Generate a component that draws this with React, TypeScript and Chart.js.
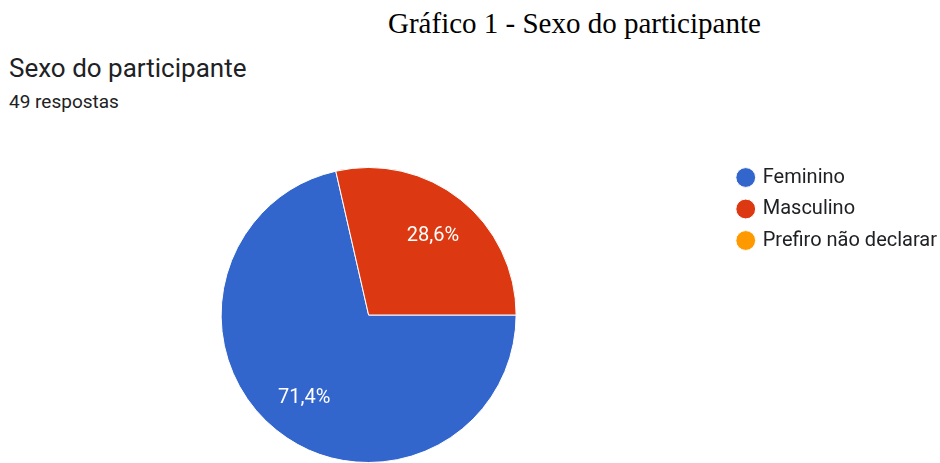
import React, { useEffect, useRef } from "react";
import { Chart, registerables } from "chart.js";

Chart.register(...registerables);

const categories: string[] = ["Feminino", "Masculino", "Prefiro não declarar"];
const values: number[] = [35, 14, 0];
const colors: string[] = ["#3366cc", "#dc3912", "#ff9900"];
const pageTitle = "Gráfico 1 - Sexo do participante";
const question = "Sexo do participante";
const responses = "49 respostas";

const labelPlugin = {
  id: "pctLabels",
  afterDatasetsDraw(chart: any) {
    const ctx = chart.ctx;
    const meta = chart.getDatasetMeta(0);
    const data = chart.data.datasets[0].data as number[];
    const total = data.reduce((a, b) => a + b, 0);
    ctx.save();
    ctx.fillStyle = "#ffffff";
    ctx.font = "20px Roboto";
    ctx.textAlign = "center";
    ctx.textBaseline = "middle";
    meta.data.forEach((arc: any, i: number) => {
      const v = data[i];
      if (!v) return;
      const { x, y, startAngle, endAngle, outerRadius } = arc.getProps(
        ["x", "y", "startAngle", "endAngle", "outerRadius"],
        true
      );
      const mid = (startAngle + endAngle) / 2;
      const r = outerRadius * 0.7;
      const txt = ((v / total) * 100).toFixed(1).replace(".", ",") + "%";
      ctx.fillText(txt, x + Math.cos(mid) * r, y + Math.sin(mid) * r + 2);
    });
    ctx.restore();
  },
};

export default function App() {
  const ref = useRef<HTMLCanvasElement>(null);
  useEffect(() => {
    const chart = new Chart(ref.current!, {
      type: "pie",
      data: {
        labels: categories,
        datasets: [
          {
            data: values,
            backgroundColor: colors,
            borderColor: "#ffffff",
            borderWidth: 1,
          },
        ],
      },
      options: {
        animation: false,
        responsive: false,
        rotation: 90,
        radius: 147.5,
        layout: { padding: { top: 156, left: 10, right: 0, bottom: 0 } },
        plugins: {
          tooltip: { enabled: false },
          legend: {
            position: "right",
            align: "start",
            labels: {
              usePointStyle: true,
              pointStyle: "circle",
              boxWidth: 14,
              boxHeight: 14,
              padding: 11.5,
              color: "#202124",
              font: { family: "Roboto", size: 20 },
            },
          },
        },
      },
      plugins: [labelPlugin],
    });
    return () => chart.destroy();
  }, []);

  return (
    <div
      style={{
        position: "fixed",
        left: 0,
        top: 0,
        width: 940,
        height: 463,
        overflow: "hidden",
        background: "#ffffff",
      }}
    >
      <div
        style={{
          position: "absolute",
          left: 388,
          top: 5,
          fontFamily: "'Liberation Serif', 'Times New Roman', serif",
          fontSize: 29,
          color: "#000",
          whiteSpace: "nowrap",
          lineHeight: "36px",
        }}
      >
        {pageTitle}
      </div>
      <div
        style={{
          position: "absolute",
          left: 9,
          top: 53,
          fontFamily: "Roboto",
          fontSize: 26,
          color: "#202124",
          whiteSpace: "nowrap",
          lineHeight: "30px",
        }}
      >
        {question}
      </div>
      <div
        style={{
          position: "absolute",
          left: 9,
          top: 90,
          fontFamily: "Roboto",
          fontSize: 19,
          color: "#202124",
          whiteSpace: "nowrap",
          lineHeight: "24px",
        }}
      >
        {responses}
      </div>
      <canvas
        ref={ref}
        width={947}
        height={474}
        style={{ position: "absolute", left: 0, top: 0, width: 947, height: 474 }}
      />
    </div>
  );
}
